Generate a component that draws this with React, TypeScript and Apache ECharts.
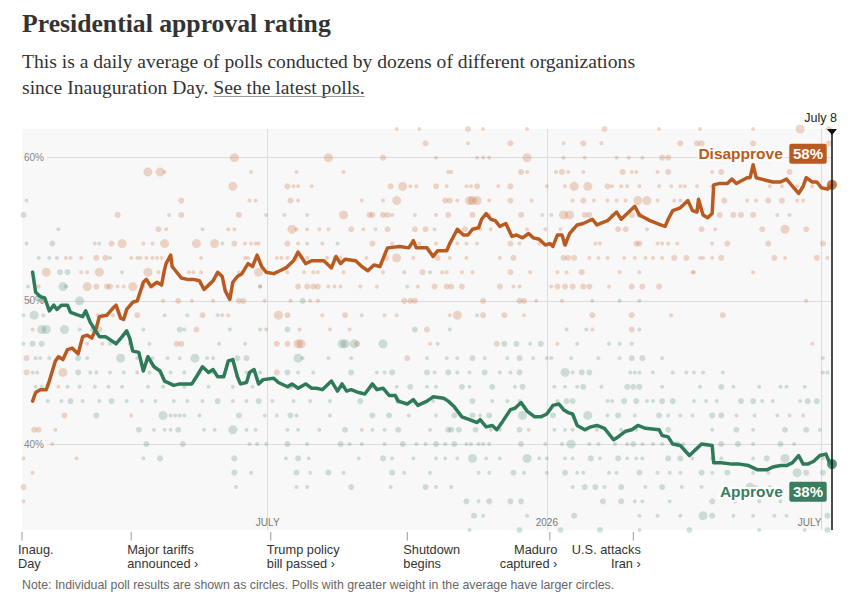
import React, { useEffect, useRef } from "react";
import * as echarts from "echarts";

// x = days since Inauguration Day (Jan 20, 2025); y = percent
const disapproveTrend: [number, number][] = [
  [7,43.0],[9,43.6],[12,43.8],[16,43.8],[18,44.4],[22,45.8],[24,46.1],[27,45.9],[30,46.6],[33,46.7],[37,46.3],[40,47.5],[43,47.6],[46,47.4],[49,48.1],[51,48.9],[56,49.0],[60,49.5],[62,49.7],[65,48.8],[67,48.7],[69,49.4],[73,49.9],[76,50.0],[80,51.3],[82,51.5],[85,51.0],[89,51.3],[92,51.1],[94,52.2],[95,52.6],[98,53.2],[99,52.4],[102,52.0],[105,51.6],[109,51.5],[113,51.5],[117,51.4],[120,50.8],[123,51.1],[126,51.4],[129,52.0],[132,51.7],[134,50.7],[137,50.1],[139,51.3],[142,51.7],[145,51.9],[149,52.6],[152,52.4],[155,53.2],[158,52.4],[161,52.0],[166,51.9],[170,52.1],[174,52.3],[179,52.8],[182,53.4],[184,53.1],[187,52.6],[191,52.8],[199,52.8],[204,52.3],[207,53.1],[210,52.6],[213,52.9],[220,52.8],[224,52.4],[228,52.1],[232,52.5],[236,52.4],[239,53.2],[241,53.7],[249,53.8],[255,53.7],[258,54.2],[260,53.7],[267,53.7],[271,53.1],[274,53.5],[280,53.5],[282,54.0],[287,55.0],[291,54.6],[294,54.6],[297,55.0],[301,55.1],[303,55.7],[306,56.1],[309,55.7],[312,55.6],[315,55.2],[319,55.4],[323,54.5],[326,54.6],[330,54.4],[334,54.7],[337,54.4],[341,54.3],[345,53.9],[348,54.0],[350,53.8],[353,54.6],[356,54.6],[358,53.9],[361,54.7],[366,55.3],[370,55.4],[376,55.7],[379,55.3],[386,55.6],[392,56.2],[395,55.7],[399,56.1],[404,56.6],[407,56.0],[414,55.6],[421,55.3],[424,55.2],[426,55.7],[429,56.3],[434,56.5],[439,57.0],[442,56.3],[445,56.2],[446,57.1],[449,56.0],[452,55.8],[455,56.1],[456,58.1],[460,58.2],[465,58.2],[468,58.5],[471,58.2],[478,58.6],[480,58.6],[482,59.5],[484,58.6],[491,58.4],[495,58.3],[500,58.3],[504,58.5],[508,58.0],[512,57.5],[515,58.0],[517,58.6],[521,58.3],[524,58.3],[527,57.9],[531,57.8],[534,58.1]
];

const approveTrend: [number, number][] = [
  [7,52.0],[9,50.6],[12,50.3],[15,50.2],[18,49.3],[21,49.7],[23,49.4],[26,49.7],[30,49.7],[32,49.2],[37,49.0],[40,48.9],[42,49.3],[45,48.5],[48,48.0],[51,47.5],[55,47.5],[62,47.0],[66,47.5],[69,47.9],[71,47.4],[73,46.5],[77,46.4],[80,45.1],[83,46.1],[87,45.4],[91,45.1],[94,44.4],[98,44.2],[100,44.1],[104,44.2],[112,44.2],[115,44.7],[119,45.4],[123,45.0],[126,45.2],[129,44.7],[133,44.7],[136,45.8],[139,45.9],[142,44.7],[144,44.2],[148,44.3],[150,45.0],[153,45.2],[156,44.2],[159,44.5],[166,44.6],[169,44.3],[175,44.0],[178,44.2],[182,43.9],[187,44.2],[191,43.9],[194,43.9],[198,43.8],[204,44.4],[208,43.7],[211,44.2],[214,43.7],[217,43.8],[222,43.6],[226,43.5],[231,44.2],[234,43.8],[238,43.9],[242,43.4],[246,43.4],[248,43.0],[254,42.8],[258,43.1],[261,42.7],[267,43.0],[271,43.3],[278,43.2],[281,43.0],[285,42.6],[290,41.9],[295,41.7],[300,41.5],[302,41.7],[306,41.2],[310,41.3],[313,41.0],[317,41.6],[322,42.4],[325,42.5],[329,42.9],[333,42.3],[338,41.9],[342,41.9],[346,42.1],[350,42.7],[354,42.8],[357,42.4],[360,42.2],[363,42.1],[366,41.3],[371,41.0],[375,41.2],[379,41.3],[384,41.1],[390,40.3],[393,40.5],[398,40.9],[402,41.0],[406,41.3],[411,41.1],[420,41.0],[422,40.6],[426,40.5],[429,40.0],[434,39.9],[440,39.2],[445,39.7],[448,40.0],[455,39.9],[456,38.7],[461,38.7],[468,38.6],[473,38.6],[479,38.5],[485,38.2],[491,38.2],[495,38.4],[500,38.5],[504,38.5],[508,38.7],[512,39.2],[515,38.6],[518,38.6],[522,38.8],[526,39.2],[530,39.3],[532,38.8],[534,38.6]
];

// individual polls: [percent, [[day, weight 1-3], ...]]
const disapprovePolls: [number, [number, number][]][] = [
  [62, [[247,1],[262,1],[294,2],[304,1],[333,1],[384,2],[420,1],[447,1],[482,1],[513,3],[532,2]]],
  [61, [[266,2],[294,1],[322,2],[357,1],[370,2],[382,1],[434,2],[445,2],[448,2],[482,2],[532,2]]],
  [60, [[140,3],[202,3],[238,2],[273,1],[300,1],[304,1],[308,1],[333,3],[357,1],[371,1],[392,1],[400,1],[409,1],[422,2],[426,2],[458,1],[461,1]]],
  [59, [[83,3],[91,3],[94,1],[151,1],[181,1],[212,1],[281,1],[283,1],[329,2],[333,1],[352,1],[356,2],[360,1],[370,1],[396,2],[402,1],[405,1],[419,1],[426,2],[455,1],[461,2],[506,2]]],
  [58, [[139,3],[175,2],[179,1],[182,1],[191,1],[243,2],[251,3],[256,1],[260,1],[273,2],[280,1],[293,1],[296,1],[300,2],[314,1],[322,2],[346,1],[358,1],[364,3],[373,3],[386,2],[389,1],[395,1],[399,1],[407,1],[420,1],[428,1],[434,1],[437,1],[445,1],[455,1],[493,1],[501,1],[511,1],[521,1],[531,1]]],
  [57, [[105,2],[150,1],[154,1],[177,2],[182,1],[224,1],[238,1],[247,3],[279,2],[282,2],[287,1],[295,3],[297,3],[300,3],[308,1],[322,2],[336,1],[363,1],[370,2],[377,1],[386,1],[392,1],[398,1],[406,3],[412,3],[419,1],[430,1],[434,1],[463,2],[478,1],[484,1],[492,2],[501,2],[511,1],[515,1]]],
  [56, [[63,2],[97,1],[105,2],[143,2],[161,1],[173,1],[188,1],[212,3],[229,2],[231,2],[238,2],[241,2],[244,1],[259,1],[273,1],[281,2],[297,2],[308,1],[329,2],[343,1],[349,1],[357,3],[361,3],[371,2],[374,2],[389,1],[402,2],[407,2],[460,2],[469,2],[474,2],[482,2],[498,1],[506,1]]],
  [55, [[90,2],[95,1],[136,1],[140,1],[178,3],[181,1],[188,1],[196,1],[202,1],[217,2],[225,1],[233,1],[241,2],[259,2],[266,2],[272,1],[292,2],[302,1],[309,1],[333,1],[345,1],[355,1],[363,1],[393,2],[398,2],[412,1],[448,2],[457,1],[488,2],[503,3],[517,2]]],
  [54, [[48,1],[59,2],[66,3],[80,1],[86,1],[94,3],[115,3],[127,3],[140,2],[147,1],[151,1],[154,1],[156,1],[175,2],[182,1],[188,1],[198,1],[231,2],[244,1],[258,1],[262,1],[273,1],[282,1],[287,1],[293,1],[300,1],[322,2],[328,1],[341,1],[358,2],[378,1],[381,1],[405,2],[407,2],[419,1],[422,1],[426,1],[432,1],[455,1],[465,2],[492,2],[528,2]]],
  [53, [[29,1],[32,1],[39,1],[49,2],[55,2],[72,1],[76,1],[78,1],[82,1],[86,1],[89,1],[92,1],[118,1],[147,1],[149,1],[155,1],[168,1],[171,1],[175,1],[181,2],[188,1],[201,1],[206,1],[210,1],[227,1],[240,2],[247,3],[258,1],[274,2],[282,1],[293,1],[315,1],[324,2],[357,2],[360,2],[364,2],[374,1],[380,1],[386,1],[397,1],[404,1],[411,1],[416,1],[422,1],[430,2],[438,2],[447,1],[449,1],[455,1],[461,2],[496,2],[503,1],[524,2],[531,1]]],
  [52, [[16,3],[39,1],[43,1],[51,3],[83,3],[90,1],[110,1],[113,1],[118,1],[143,1],[156,3],[175,1],[186,1],[192,1],[195,1],[212,1],[238,1],[264,2],[277,1],[280,1],[290,1],[297,1],[322,2],[335,1],[353,1],[359,1],[369,2],[394,1],[407,1],[442,1],[443,1],[482,1]]],
  [51, [[11,1],[43,3],[49,2],[56,2],[58,2],[63,1],[67,1],[73,3],[80,1],[86,1],[157,1],[182,2],[188,2],[192,2],[195,2],[202,1],[206,1],[210,1],[223,1],[234,1],[261,1],[272,2],[280,2],[283,2],[290,2],[315,2],[324,1],[328,1],[349,1],[353,2],[358,2],[363,2],[370,2],[374,2],[387,1],[402,2],[409,2],[420,2]]],
  [50, [[5,1],[93,1],[103,2],[112,1],[126,1],[143,2],[146,2],[160,1],[177,1],[190,1],[195,1],[252,2],[256,2],[259,2],[304,2],[328,2],[331,2],[339,1],[356,1],[517,1]]],
  [49, [[50,1],[53,1],[60,1],[76,2],[119,2],[132,1],[136,1],[169,3],[175,2],[198,1],[213,2],[239,1],[247,1],[282,1],[287,3],[304,2],[318,2],[331,1],[376,2],[402,2],[428,1],[462,2]]],
  [48, [[7,1],[51,2],[115,2],[161,1],[183,1],[203,1],[216,1],[267,2],[376,1],[402,2]]],
  [47, [[43,1],[53,1],[102,2],[105,2],[168,2],[175,2],[182,3],[184,3],[221,2],[269,1],[313,2],[353,1],[521,1]]],
  [46, [[3,2],[254,2],[394,1],[528,1]]],
  [45, [[3,2],[27,3],[168,2]]],
  [44, [[24,1]]],
  [42, [[28,2],[72,1]]],
  [41, [[8,2],[11,2],[22,1],[224,1],[334,1]]],
  [40, [[20,1]]],
  [39, [[1,1],[36,1]]],
  [38, [[7,1]]],
  [37, [[1,2]]],
  [36, [[1,1]]],
];

const approvePolls: [number, [number, number][]][] = [
  [57, [[3,1]]],
  [56, [[1,2]]],
  [55, [[24,1],[119,1]]],
  [54, [[3,1],[20,2],[51,1],[132,1],[208,1]]],
  [53, [[11,1],[18,1],[23,1],[58,1]]],
  [52, [[7,1],[25,2],[30,2],[66,1],[252,1],[269,1]]],
  [51, [[4,1],[27,3],[29,1],[157,1],[254,1]]],
  [50, [[12,1],[14,1],[38,3],[185,2],[376,1],[394,1],[407,1]]],
  [49, [[1,1],[8,3],[14,1],[94,1],[109,1],[129,1],[224,1],[300,1]]],
  [48, [[13,3],[16,3],[28,3],[38,1],[47,2],[80,1],[104,2],[107,1],[137,1],[157,1],[175,2],[259,2],[282,1],[359,1],[372,1],[407,1]]],
  [47, [[1,1],[7,2],[13,2],[58,1],[71,1],[84,1],[130,1],[147,1],[211,3],[213,3],[219,3],[238,3],[274,1],[318,2],[326,2],[335,1],[342,2],[366,1],[387,1],[394,1],[402,1]]],
  [46, [[9,1],[12,1],[18,1],[26,1],[37,2],[43,1],[65,3],[76,1],[86,1],[96,1],[104,1],[114,3],[122,1],[126,1],[142,2],[148,2],[182,3],[185,1],[202,1],[217,1],[267,1],[280,1],[287,1],[297,2],[305,1],[320,1],[328,2],[337,1],[346,1],[349,1],[362,1],[380,1],[402,2],[409,2],[422,1]]],
  [45, [[7,1],[10,1],[37,2],[45,1],[49,1],[58,1],[67,1],[76,1],[84,1],[98,1],[107,1],[117,1],[126,1],[148,1],[157,1],[175,2],[182,1],[192,1],[217,2],[234,1],[239,1],[244,2],[267,2],[272,1],[281,2],[287,1],[295,1],[305,2],[315,1],[322,1],[328,2],[358,3],[363,1],[369,2],[374,2],[401,1],[404,1],[407,1],[416,1],[429,1],[438,1],[443,1],[449,1],[462,1],[528,1],[531,1]]],
  [44, [[9,1],[13,1],[30,1],[38,1],[48,1],[57,1],[66,1],[83,1],[93,1],[107,1],[123,1],[139,1],[152,1],[177,2],[210,1],[231,1],[247,1],[256,2],[267,1],[273,1],[290,2],[295,1],[310,2],[325,1],[330,2],[351,1],[358,1],[366,1],[370,2],[382,1],[399,2],[403,2],[407,2],[422,1],[447,1],[461,2],[469,1],[486,1],[500,1],[504,1],[516,1]]],
  [43, [[17,1],[26,1],[32,2],[40,1],[51,1],[59,2],[69,1],[79,1],[88,1],[100,1],[109,1],[119,1],[129,2],[139,1],[148,1],[156,2],[165,1],[179,1],[190,1],[203,1],[223,2],[248,2],[258,1],[271,1],[297,2],[310,1],[320,1],[328,1],[353,1],[359,2],[363,2],[386,1],[389,1],[397,2],[405,2],[412,1],[416,1],[422,2],[429,2],[443,1],[451,1],[458,1],[474,2],[482,2],[488,1],[495,1],[513,1],[518,2],[524,2]]],
  [42, [[49,2],[93,3],[98,1],[101,1],[104,1],[107,1],[117,1],[143,2],[160,1],[168,1],[177,2],[181,1],[203,1],[231,2],[242,2],[255,1],[273,1],[285,2],[297,2],[302,1],[308,2],[330,3],[350,2],[373,3],[386,1],[393,2],[404,1],[420,2],[426,1],[434,1],[442,1],[455,2],[461,2],[471,1],[483,1],[498,1],[506,1],[515,1]]],
  [41, [[77,2],[87,1],[94,1],[98,1],[103,2],[120,1],[127,1],[139,3],[148,1],[154,1],[175,1],[182,1],[196,1],[213,2],[231,1],[239,1],[248,2],[269,1],[281,2],[283,2],[288,2],[299,2],[309,1],[315,1],[328,2],[351,1],[358,1],[363,1],[372,1],[379,1],[395,1],[401,1],[405,1],[420,1],[426,2],[455,1],[471,2],[482,1],[503,2],[517,2],[526,1]]],
  [40, [[82,2],[106,2],[150,1],[155,1],[161,1],[175,2],[188,1],[210,2],[216,1],[224,1],[239,1],[251,2],[260,1],[266,1],[273,2],[279,1],[285,2],[293,1],[296,1],[301,1],[304,1],[308,1],[329,2],[345,1],[356,1],[362,3],[374,1],[380,1],[391,1],[399,1],[403,2],[409,1],[416,1],[422,1],[432,2],[436,1],[461,2],[472,2],[482,1],[500,2],[509,1]]],
  [39, [[80,1],[91,2],[140,2],[174,1],[182,2],[189,1],[222,1],[238,2],[244,1],[258,1],[273,1],[279,1],[287,1],[297,3],[306,1],[315,1],[333,3],[341,1],[346,1],[358,1],[363,1],[375,2],[381,1],[393,2],[399,1],[405,1],[409,1],[426,2],[434,2],[442,1],[455,1],[461,1],[482,1],[491,2],[503,3],[528,1]]],
  [38, [[140,2],[151,1],[181,2],[190,1],[202,2],[212,1],[244,2],[252,1],[269,1],[301,1],[308,1],[324,2],[331,1],[346,1],[358,2],[366,1],[370,1],[387,1],[392,1],[407,2],[419,1],[427,1],[434,1],[448,2],[455,1],[465,2],[482,1],[492,1],[511,3],[517,2],[528,2]]],
  [37, [[141,1],[181,1],[188,1],[217,2],[243,1],[266,2],[273,1],[283,1],[363,1],[371,2],[378,2],[384,1],[395,2],[411,1],[422,2],[435,1],[448,1],[480,3],[484,1],[493,1]]],
  [36, [[293,2],[301,1],[308,2],[322,2],[329,2],[383,2],[395,2],[404,1],[409,1],[427,1],[455,2],[470,1],[486,1],[500,1]]],
  [35, [[298,2],[304,1],[333,1],[364,2],[407,1],[419,1],[434,1],[449,3],[455,2],[469,1],[482,1],[496,1],[504,1],[531,2]]],
  [34, [[295,1],[328,2],[355,2],[381,2],[407,1],[440,2],[486,1],[516,1],[531,2]]],
];

const monthTicks = [162, 346, 527];
const monthLabels = ["JULY", "2026", "JULY"];
const yTicks = [40, 50, 60];
const lastDay = 534;
const lastDayLabel = "July 8";
const endLabels = ["58%", "38%"];
const seriesNames = ["Disapprove", "Approve"];

const eventDays = [0, 72, 164, 254, 348, 403];
const eventLines = [
  ["Inaug.", "Day"],
  ["Major tariffs", "announced \u203a"],
  ["Trump policy", "bill passed \u203a"],
  ["Shutdown", "begins"],
  ["Maduro", "captured \u203a"],
  ["U.S. attacks", "Iran \u203a"],
];
const eventAlign = ["left", "left", "left", "left", "right", "right"];

const TITLE = "Presidential approval rating";
const SUB1 = "This is a daily average of polls conducted by dozens of different organizations";
const SUB2A = "since Inauguration Day. ";
const SUB2B = "See the latest polls.";
const NOTE = "Note: Individual poll results are shown as circles. Polls with greater weight in the average have larger circles.";

const ORANGE = "#b95a21";
const GREEN = "#2f7a58";
const SIZES = [4, 6, 9];
const SERIF = '"Liberation Serif", "Times New Roman", serif';
const SANS = '"Liberation Sans", Arial, sans-serif';

function flatten(rows: [number, [number, number][]][]) {
  const out: number[][] = [];
  rows.forEach(([pct, pts]) => pts.forEach(([d, w]) => out.push([d, pct, w])));
  return out;
}

function measure(text: string, font: string) {
  const c = document.createElement("canvas").getContext("2d")!;
  c.font = font;
  return c.measureText(text).width;
}

export default function App() {
  const ref = useRef<HTMLDivElement>(null);

  useEffect(() => {
    const chart = echarts.init(ref.current!, null, { renderer: "svg" });
    const dLast = disapproveTrend[disapproveTrend.length - 1];
    const aLast = approveTrend[approveTrend.length - 1];

    chart.setOption({
      animation: false,
      grid: {
        left: 22, top: 129, width: 810, height: 401,
        show: true, backgroundColor: "#f8f8f8", borderWidth: 0,
      },
      xAxis: {
        type: "value", min: 0, max: lastDay,
        axisLine: { show: false },
        axisTick: { show: false, customValues: monthTicks },
        axisLabel: {
          customValues: monthTicks, inside: true, margin: 3,
          formatter: (v: number) => monthLabels[monthTicks.indexOf(v)] ?? "",
          color: "#777", fontSize: 10, fontFamily: SANS, alignMaxLabel: "right",
        },
        splitLine: { show: true, lineStyle: { color: "#dcdcdc", width: 1 } },
      },
      yAxis: {
        type: "value", min: 34, max: 62,
        axisLine: { show: false },
        axisTick: { show: false, customValues: yTicks },
        axisLabel: {
          customValues: yTicks, inside: true, margin: 1,
          formatter: "{value}%", color: "#888", fontSize: 10, fontFamily: SANS,
          backgroundColor: "#f8f8f8", padding: [2, 3, 2, 1],
        },
        splitLine: { show: true, lineStyle: { color: "#dcdcdc", width: 1 } },
      },
      series: [
        {
          type: "scatter", data: flatten(approvePolls), silent: true, z: 1,
          symbolSize: (v: number[]) => SIZES[v[2] - 1],
          itemStyle: { color: "rgba(47,122,90,0.27)" },
        },
        {
          type: "scatter", data: flatten(disapprovePolls), silent: true, z: 1,
          symbolSize: (v: number[]) => SIZES[v[2] - 1],
          itemStyle: { color: "rgba(200,98,46,0.32)" },
        },
        {
          type: "line", name: seriesNames[0], data: disapproveTrend, symbol: "none", z: 3,
          lineStyle: { color: ORANGE, width: 3.5, join: "round", cap: "round" },
        },
        {
          type: "line", name: seriesNames[1], data: approveTrend, symbol: "none", z: 3,
          lineStyle: { color: GREEN, width: 3.5, join: "round", cap: "round" },
        },
        { type: "scatter", data: [dLast], symbolSize: 10, itemStyle: { color: ORANGE }, z: 4, silent: true },
        { type: "scatter", data: [aLast], symbolSize: 10, itemStyle: { color: GREEN }, z: 4, silent: true },
      ],
    });

    const toPx = (p: number[]) => chart.convertToPixel({ gridIndex: 0 }, p) as number[];
    const top = toPx([0, 62])[1];
    const bottom = toPx([0, 34])[1];
    const endX = toPx([lastDay, 50])[0];
    const dEnd = toPx(dLast);
    const aEnd = toPx(aLast);

    const els: any[] = [];
    // title & subtitle
    els.push({ type: "text", x: 22, y: 23, style: { text: TITLE, fontFamily: SERIF, fontWeight: "bold", fontSize: 25.7, fill: "#333", textVerticalAlign: "middle" } });
    const subSize = 19.6;
    els.push({ type: "text", x: 22, y: 61, style: { text: SUB1, fontFamily: SERIF, fontSize: subSize, fill: "#333", textVerticalAlign: "middle" } });
    const subFont = `${subSize}px ${SERIF}`;
    const wA = measure(SUB2A, subFont);
    const wB = measure(SUB2B, subFont);
    els.push({ type: "text", x: 22, y: 87, style: { text: SUB2A, fontFamily: SERIF, fontSize: subSize, fill: "#333", textVerticalAlign: "middle" } });
    els.push({ type: "text", x: 22 + wA, y: 87, style: { text: SUB2B, fontFamily: SERIF, fontSize: subSize, fill: "#333", textVerticalAlign: "middle" } });
    els.push({ type: "line", shape: { x1: 22 + wA, y1: 96.5, x2: 22 + wA + wB, y2: 96.5 }, style: { stroke: "#999", lineWidth: 1 } });

    // today marker
    els.push({ type: "text", x: endX + 5, y: 118, z: 10, style: { text: lastDayLabel, fontFamily: SANS, fontSize: 12.5, fill: "#222", textAlign: "right", textVerticalAlign: "middle" } });
    els.push({ type: "line", z: 10, shape: { x1: endX, y1: top, x2: endX, y2: bottom }, style: { stroke: "#111", lineWidth: 1.5 } });
    els.push({ type: "polygon", z: 10, shape: { points: [[endX - 5, top], [endX + 5, top], [endX, top + 6]] }, style: { fill: "#111" } });

    // end labels
    const endLabel = (pt: number[], dy: number, name: string, val: string, color: string) => {
      const boxR = pt[0] - 5.3;
      const boxW = 37.4;
      const cy = pt[1] + dy;
      els.push({ type: "text", x: boxR - boxW - 6.5, y: cy, z: 10, style: { text: name, fontFamily: SANS, fontWeight: "bold", fontSize: 15.5, fill: "#fff", stroke: "#fff", lineWidth: 4, textAlign: "right", textVerticalAlign: "middle" } });
      els.push({ type: "text", x: boxR - boxW - 6.5, y: cy, z: 11, style: { text: name, fontFamily: SANS, fontWeight: "bold", fontSize: 15.5, fill: color, textAlign: "right", textVerticalAlign: "middle" } });
      els.push({ type: "rect", z: 10, shape: { x: boxR - boxW, y: cy - 10, width: boxW, height: 20, r: 2 }, style: { fill: color } });
      els.push({ type: "text", x: boxR - boxW / 2, y: cy, z: 11, style: { text: val, fontFamily: SANS, fontWeight: "bold", fontSize: 15, fill: "#fff", textAlign: "center", textVerticalAlign: "middle" } });
    };
    endLabel(dEnd, -31, seriesNames[0], endLabels[0], ORANGE);
    endLabel(aEnd, 27.7, seriesNames[1], endLabels[1], "#3a7d5f");

    // events
    eventDays.forEach((d, i) => {
      const x = toPx([d, 50])[0];
      els.push({ type: "line", shape: { x1: x, y1: bottom + 2, x2: x, y2: bottom + 10.5 }, style: { stroke: "#999", lineWidth: 1 } });
      const left = eventAlign[i] === "left";
      const tx = left ? x - 4 : x + 7.5;
      eventLines[i].forEach((ln, j) => {
        els.push({ type: "text", x: tx, y: 549 + j * 14.5, style: { text: ln, fontFamily: SANS, fontSize: 12.8, fill: "#333", textAlign: left ? "left" : "right", textVerticalAlign: "middle" } });
      });
    });

    els.push({ type: "text", x: 22, y: 585, style: { text: NOTE, fontFamily: SANS, fontSize: 12.35, fill: "#666", textVerticalAlign: "middle" } });

    chart.setOption({ graphic: { elements: els } });

    return () => chart.dispose();
  }, []);

  return <div ref={ref} style={{ position: "absolute", left: 0, top: 0, width: 856, height: 601 }} />;
}
